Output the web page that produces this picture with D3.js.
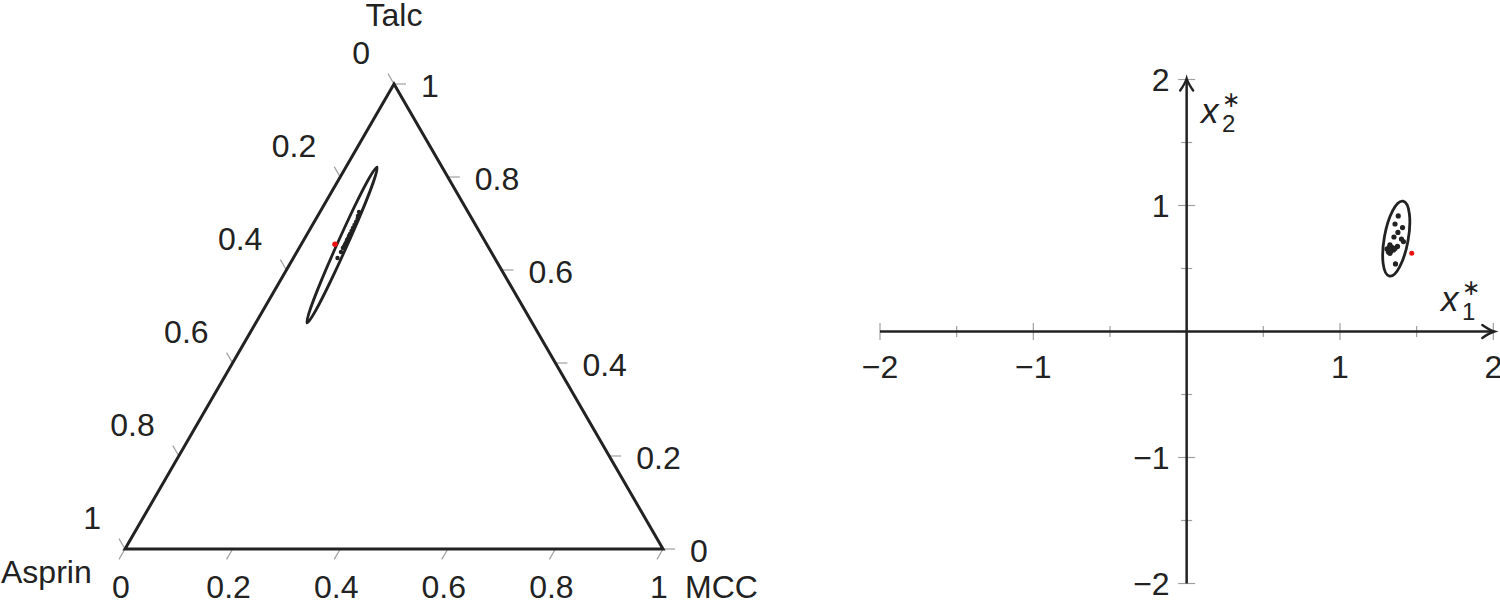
<!DOCTYPE html>
<html>
<head>
<meta charset="utf-8">
<script src="https://cdn.jsdelivr.net/npm/d3@7"></script>
<style>
  body { margin: 0; background: #fff; }
  svg { display: block; font-family: "Liberation Sans", Arial, sans-serif; }
  text { fill: #222; }
</style>
</head>
<body>
<svg id="canvas" width="1500" height="602"></svg>
<script>
// ---- ternary panel data (compositions, Asprin = 1 - MCC - Talc) ----
const cornerNames = ["Asprin", "MCC", "Talc"];
const ternTicks = [0, 0.2, 0.4, 0.6, 0.8, 1];
const ternTickLabels = ["0", "0.2", "0.4", "0.6", "0.8", "1"];

const sampleMCC = [0.0821, 0.0821, 0.0815, 0.0818, 0.0820, 0.0814, 0.0816, 0.0804, 0.0806,
                   0.0798, 0.0795, 0.0791, 0.0786, 0.0782, 0.0778, 0.0773, 0.0750, 0.0726];
const sampleTalc = [0.6258, 0.6387, 0.6473, 0.6505, 0.6538, 0.6570, 0.6602, 0.6645, 0.6677,
                    0.6731, 0.6774, 0.6839, 0.6903, 0.6968, 0.7032, 0.7097, 0.7161, 0.7247];
const targetMCC = 0.0627;
const targetTalc = 0.6553;
// ends of the long axis of the confidence region, [MCC, Talc]
const ternRegionEnds = [[0.0577, 0.8215], [0.0953, 0.4860]];
const ternRegionHalfWidth = 0.009;

// ---- transformed (x1*, x2*) panel data ----
const starTicks = [-2, -1.5, -1, -0.5, 0, 0.5, 1, 1.5, 2];
const starTickLabels = [-2, -1, 1, 2];
const sampleX1 = [1.380, 1.359, 1.408, 1.378, 1.352, 1.401, 1.414, 1.375, 1.326,
                  1.339, 1.307, 1.316, 1.349, 1.326, 1.323, 1.362, 1.333, 1.359];
const sampleX2 = [0.917, 0.853, 0.825, 0.786, 0.750, 0.734, 0.714, 0.675, 0.687,
                  0.667, 0.655, 0.631, 0.647, 0.619, 0.671, 0.536, 0.639, 0.659];
const targetX1 = 1.468;
const targetX2 = 0.621;
const regionCentre = [1.367, 0.737];
const regionMajorEnd = [1.411, 1.034];
const regionHalfWidth = 0.078;

const ink = "#222";
const tickGrey = "#a0a0a0";
const canvas = d3.select("#canvas");

const drawEllipse = (g, p1, p2, ry) => {
    const cx = (p1[0] + p2[0]) / 2;
    const cy = (p1[1] + p2[1]) / 2;
    const rx = Math.hypot(p2[0] - p1[0], p2[1] - p1[1]) / 2;
    const angle = Math.atan2(p2[1] - p1[1], p2[0] - p1[0]) * 180 / Math.PI;
    g.append("ellipse")
        .attr("transform", "translate(" + cx + "," + cy + ") rotate(" + angle + ")")
        .attr("rx", rx)
        .attr("ry", ry)
        .attr("fill", "none")
        .attr("stroke", ink)
        .attr("stroke-width", 2.8);
};

const drawTernary = () => {
    const sx = d3.scaleLinear().domain([0, 1]).range([125, 663]);
    const sy = d3.scaleLinear().domain([0, 1]).range([549, 84]);
    const project = (mcc, talc) => [sx(mcc + talc / 2), sy(talc)];

    const g = canvas.append("g");
    const tickLen = 12;

    // bottom edge: MCC fraction
    ternTicks.forEach((v, i) => {
        const p = project(v, 0);
        g.append("line")
            .attr("x1", p[0]).attr("y1", p[1])
            .attr("x2", p[0] - 0.5 * tickLen).attr("y2", p[1] + 0.866 * tickLen)
            .attr("stroke", tickGrey).attr("stroke-width", 1.2);
        g.append("text")
            .attr("x", p[0] - 4).attr("y", 598)
            .attr("text-anchor", "middle")
            .attr("font-size", 32)
            .text(ternTickLabels[i]);
    });
    // right edge: Talc fraction
    ternTicks.forEach((v, i) => {
        const p = project(1 - v, v);
        g.append("line")
            .attr("x1", p[0]).attr("y1", p[1])
            .attr("x2", p[0] + tickLen).attr("y2", p[1])
            .attr("stroke", tickGrey).attr("stroke-width", 1.2);
        g.append("text")
            .attr("x", p[0] + 27).attr("y", p[1] + 13)
            .attr("font-size", 32)
            .text(ternTickLabels[i]);
    });
    // left edge: Asprin fraction
    ternTicks.forEach((v, i) => {
        const p = project(0, 1 - v);
        g.append("line")
            .attr("x1", p[0]).attr("y1", p[1])
            .attr("x2", p[0] - 0.5 * tickLen).attr("y2", p[1] - 0.866 * tickLen)
            .attr("stroke", tickGrey).attr("stroke-width", 1.2);
        g.append("text")
            .attr("x", p[0] - 24).attr("y", p[1] - 20)
            .attr("text-anchor", "end")
            .attr("font-size", 32)
            .text(ternTickLabels[i]);
    });

    const corners = [project(0, 0), project(1, 0), project(0, 1)];
    g.append("path")
        .attr("d", "M" + corners.map(c => c.join(",")).join("L") + "Z")
        .attr("fill", "none")
        .attr("stroke", ink)
        .attr("stroke-width", 3)
        .attr("stroke-linejoin", "miter");

    g.append("text").attr("x", 1).attr("y", 583).attr("font-size", 32).text(cornerNames[0]);
    g.append("text").attr("x", 685).attr("y", 598).attr("font-size", 32).text(cornerNames[1]);
    g.append("text").attr("x", 394).attr("y", 26).attr("text-anchor", "middle")
        .attr("font-size", 32).text(cornerNames[2]);

    drawEllipse(g,
        project(ternRegionEnds[0][0], ternRegionEnds[0][1]),
        project(ternRegionEnds[1][0], ternRegionEnds[1][1]),
        sx(ternRegionHalfWidth) - sx(0));

    g.selectAll(".tdot")
        .data(sampleMCC)
        .enter()
        .append("circle")
        .attr("class", "tdot")
        .attr("cx", (d, i) => project(d, sampleTalc[i])[0])
        .attr("cy", (d, i) => project(d, sampleTalc[i])[1])
        .attr("r", 2.2)
        .attr("fill", ink);

    const t = project(targetMCC, targetTalc);
    g.append("circle").attr("cx", t[0]).attr("cy", t[1]).attr("r", 2.8).attr("fill", "#ee1111");
};

const drawStar = () => {
    const x = d3.scaleLinear().domain([-2, 2]).range([880, 1493.3]);
    const y = d3.scaleLinear().domain([-2, 2]).range([583.5, 79.5]);
    const g = canvas.append("g");

    starTicks.forEach((v) => {
        const len = Number.isInteger(v) ? 8.5 : 5.5;
        g.append("line")
            .attr("x1", x(v)).attr("x2", x(v))
            .attr("y1", y(0) - len).attr("y2", y(0) + len)
            .attr("stroke", tickGrey).attr("stroke-width", 1.2);
        g.append("line")
            .attr("y1", y(v)).attr("y2", y(v))
            .attr("x1", x(0) - len).attr("x2", x(0) + len)
            .attr("stroke", tickGrey).attr("stroke-width", 1.2);
    });

    g.append("line")
        .attr("x1", x(-2)).attr("x2", x(2) - 1)
        .attr("y1", y(0)).attr("y2", y(0))
        .attr("stroke", ink).attr("stroke-width", 2.5);
    g.append("line")
        .attr("x1", x(0)).attr("x2", x(0))
        .attr("y1", y(-2)).attr("y2", y(2) + 1)
        .attr("stroke", ink).attr("stroke-width", 2.5);

    const head = "M-12,-6.5 Q-5,-1.5 0,0 Q-5,1.5 -12,6.5";
    g.append("path")
        .attr("d", head)
        .attr("transform", "translate(" + (x(2) + 1) + "," + y(0) + ")")
        .attr("fill", "none").attr("stroke", ink).attr("stroke-width", 2.4)
        .attr("stroke-linecap", "round");
    g.append("path")
        .attr("d", head)
        .attr("transform", "translate(" + x(0) + "," + (y(2) - 1) + ") rotate(-90)")
        .attr("fill", "none").attr("stroke", ink).attr("stroke-width", 2.4)
        .attr("stroke-linecap", "round");

    starTickLabels.forEach((v) => {
        const s = v < 0 ? "\u2212" + Math.abs(v) : String(v);
        g.append("text")
            .attr("x", x(v)).attr("y", y(0) + 46.5)
            .attr("text-anchor", "middle")
            .attr("font-size", 32)
            .text(s);
        g.append("text")
            .attr("x", x(0) - 17).attr("y", y(v) + 11.5)
            .attr("text-anchor", "end")
            .attr("font-size", 32)
            .text(s);
    });

    // axis names
    const axisName = (px, py, sub) => {
        g.append("text").attr("x", px).attr("y", py)
            .attr("font-size", 35).attr("font-style", "italic").text("x");
        g.append("text").attr("x", px + 21).attr("y", py + 9)
            .attr("font-size", 24).text(sub);
        g.append("text").attr("x", px + 21).attr("y", py - 16)
            .attr("font-size", 22).attr("font-family", "DejaVu Sans").text("\u2217");
    };
    axisName(1441, 311, "1");
    axisName(1201, 123, "2");

    const p1 = [x(regionMajorEnd[0]), y(regionMajorEnd[1])];
    const p2 = [x(2 * regionCentre[0] - regionMajorEnd[0]), y(2 * regionCentre[1] - regionMajorEnd[1])];
    drawEllipse(g, p1, p2, x(regionHalfWidth) - x(0));

    g.selectAll(".sdot")
        .data(sampleX1)
        .enter()
        .append("circle")
        .attr("class", "sdot")
        .attr("cx", (d) => x(d))
        .attr("cy", (d, i) => y(sampleX2[i]))
        .attr("r", 2.6)
        .attr("fill", ink);

    g.append("circle")
        .attr("cx", x(targetX1)).attr("cy", y(targetX2))
        .attr("r", 2.5).attr("fill", "#ee1111");
};

drawTernary();
drawStar();
</script>
</body>
</html>
